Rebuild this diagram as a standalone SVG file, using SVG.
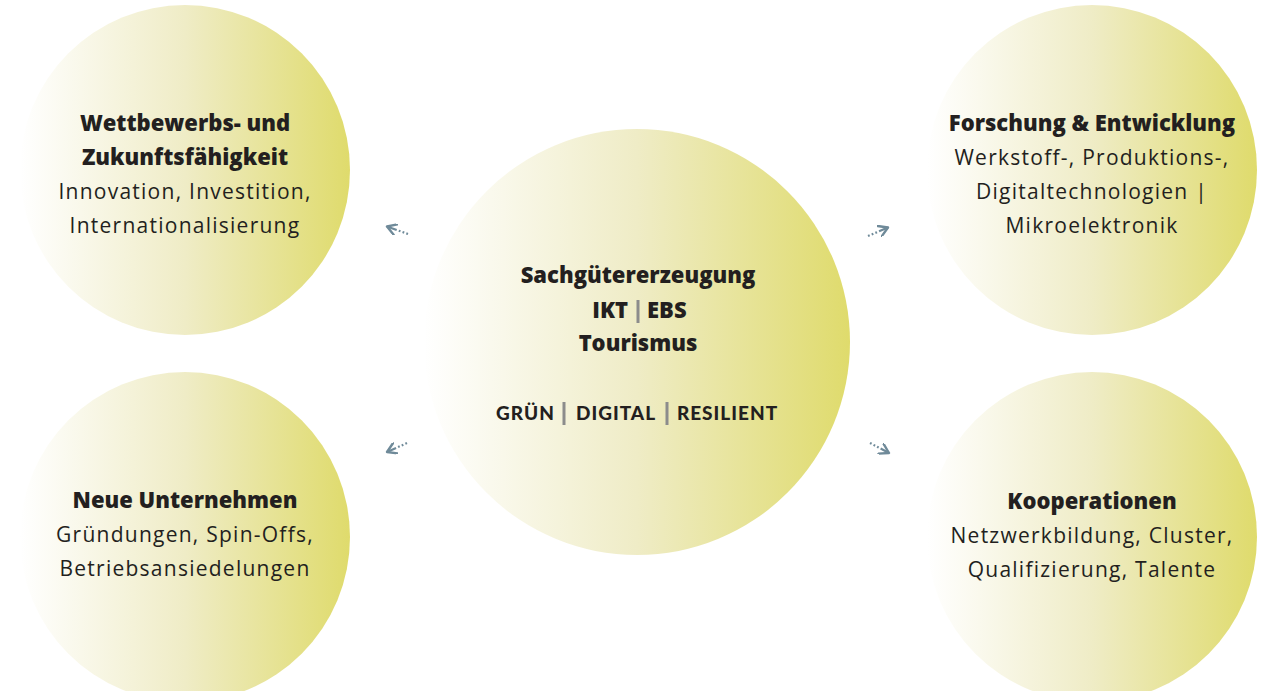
<svg xmlns="http://www.w3.org/2000/svg" width="1275" height="691" viewBox="0 0 1275 691">
<defs>
<linearGradient id="g" x1="0" y1="0" x2="1" y2="0">
<stop offset="0" stop-color="#ffffff"/>
<stop offset="0.5" stop-color="#efecc6"/>
<stop offset="1" stop-color="#dfdb6c"/>
</linearGradient>
<marker id="ah" viewBox="0 0 12 12" refX="10" refY="6" markerWidth="12" markerHeight="12" markerUnits="userSpaceOnUse" orient="auto">
<path d="M1,0.5 L10,6 L1,11.5" fill="none" stroke="#6f8a99" stroke-width="2.4" stroke-linecap="round" stroke-linejoin="round"/>
</marker>
<style>
.c{fill:url(#g)}
.h{font-family:"Open Sans","Liberation Sans",sans-serif;font-weight:800;font-size:22px;fill:#231f20;text-anchor:middle}
.b{font-family:"Open Sans","Liberation Sans",sans-serif;font-size:21px;letter-spacing:1.25px;fill:#231f20;text-anchor:middle}
.k{font-family:Lato,"Liberation Sans",sans-serif;font-weight:900;font-size:19px;fill:#231f20;letter-spacing:1px}
.bar{fill:#8c8c8c}
.ar{fill:none;stroke:#6f8a99;stroke-width:2.2;stroke-dasharray:1.8 2.2 1.8 2.2 1.8 2.2 30;marker-end:url(#ah)}
</style>
</defs>
<g id="n-wettbewerb">
<circle class="c" cx="185" cy="170" r="165"/>
<text class="h" x="185" y="131">Wettbewerbs- und</text>
<text class="h" x="185" y="165">Zukunftsfähigkeit</text>
<text class="b" x="185" y="199">Innovation, Investition,</text>
<text class="b" x="185" y="233">Internationalisierung</text>
</g>
<g id="n-forschung">
<circle class="c" cx="1092" cy="170" r="165"/>
<text class="h" x="1092" y="131">Forschung &amp; Entwicklung</text>
<text class="b" x="1092" y="165">Werkstoff-, Produktions-,</text>
<text class="b" x="1092" y="199">Digitaltechnologien |</text>
<text class="b" x="1092" y="233">Mikroelektronik</text>
</g>
<g id="n-neue">
<circle class="c" cx="185" cy="537" r="165"/>
<text class="h" x="185" y="508">Neue Unternehmen</text>
<text class="b" x="185" y="542">Gründungen, Spin-Offs,</text>
<text class="b" x="185" y="576">Betriebsansiedelungen</text>
</g>
<g id="n-koop">
<circle class="c" cx="1092" cy="537" r="165"/>
<text class="h" x="1092" y="509">Kooperationen</text>
<text class="b" x="1092" y="543">Netzwerkbildung, Cluster,</text>
<text class="b" x="1092" y="577">Qualifizierung, Talente</text>
</g>
<g id="n-center">
<circle class="c" cx="637" cy="342" r="213"/>
<text class="h" x="638" y="283">Sachgütererzeugung</text>
<text class="h" x="628" y="318" style="text-anchor:end">IKT</text>
<rect class="bar" x="636.5" y="300" width="3" height="23"/>
<text class="h" x="647" y="318" style="text-anchor:start">EBS</text>
<text class="h" x="638" y="351">Tourismus</text>
<text class="k" x="525.5" y="420" text-anchor="middle">GRÜN</text>
<rect class="bar" x="562.5" y="402" width="3" height="23"/>
<text class="k" x="616" y="420" text-anchor="middle">DIGITAL</text>
<rect class="bar" x="665.5" y="402" width="3" height="23"/>
<text class="k" x="727.5" y="420" text-anchor="middle">RESILIENT</text>
</g>
<g id="connectors">
<path class="ar" d="M408,234 L387,226.5"/>
<path class="ar" d="M868,236 L888,227.5"/>
<path class="ar" d="M407,443 L387,452"/>
<path class="ar" d="M870,443 L889,453"/>
</g>
</svg>
